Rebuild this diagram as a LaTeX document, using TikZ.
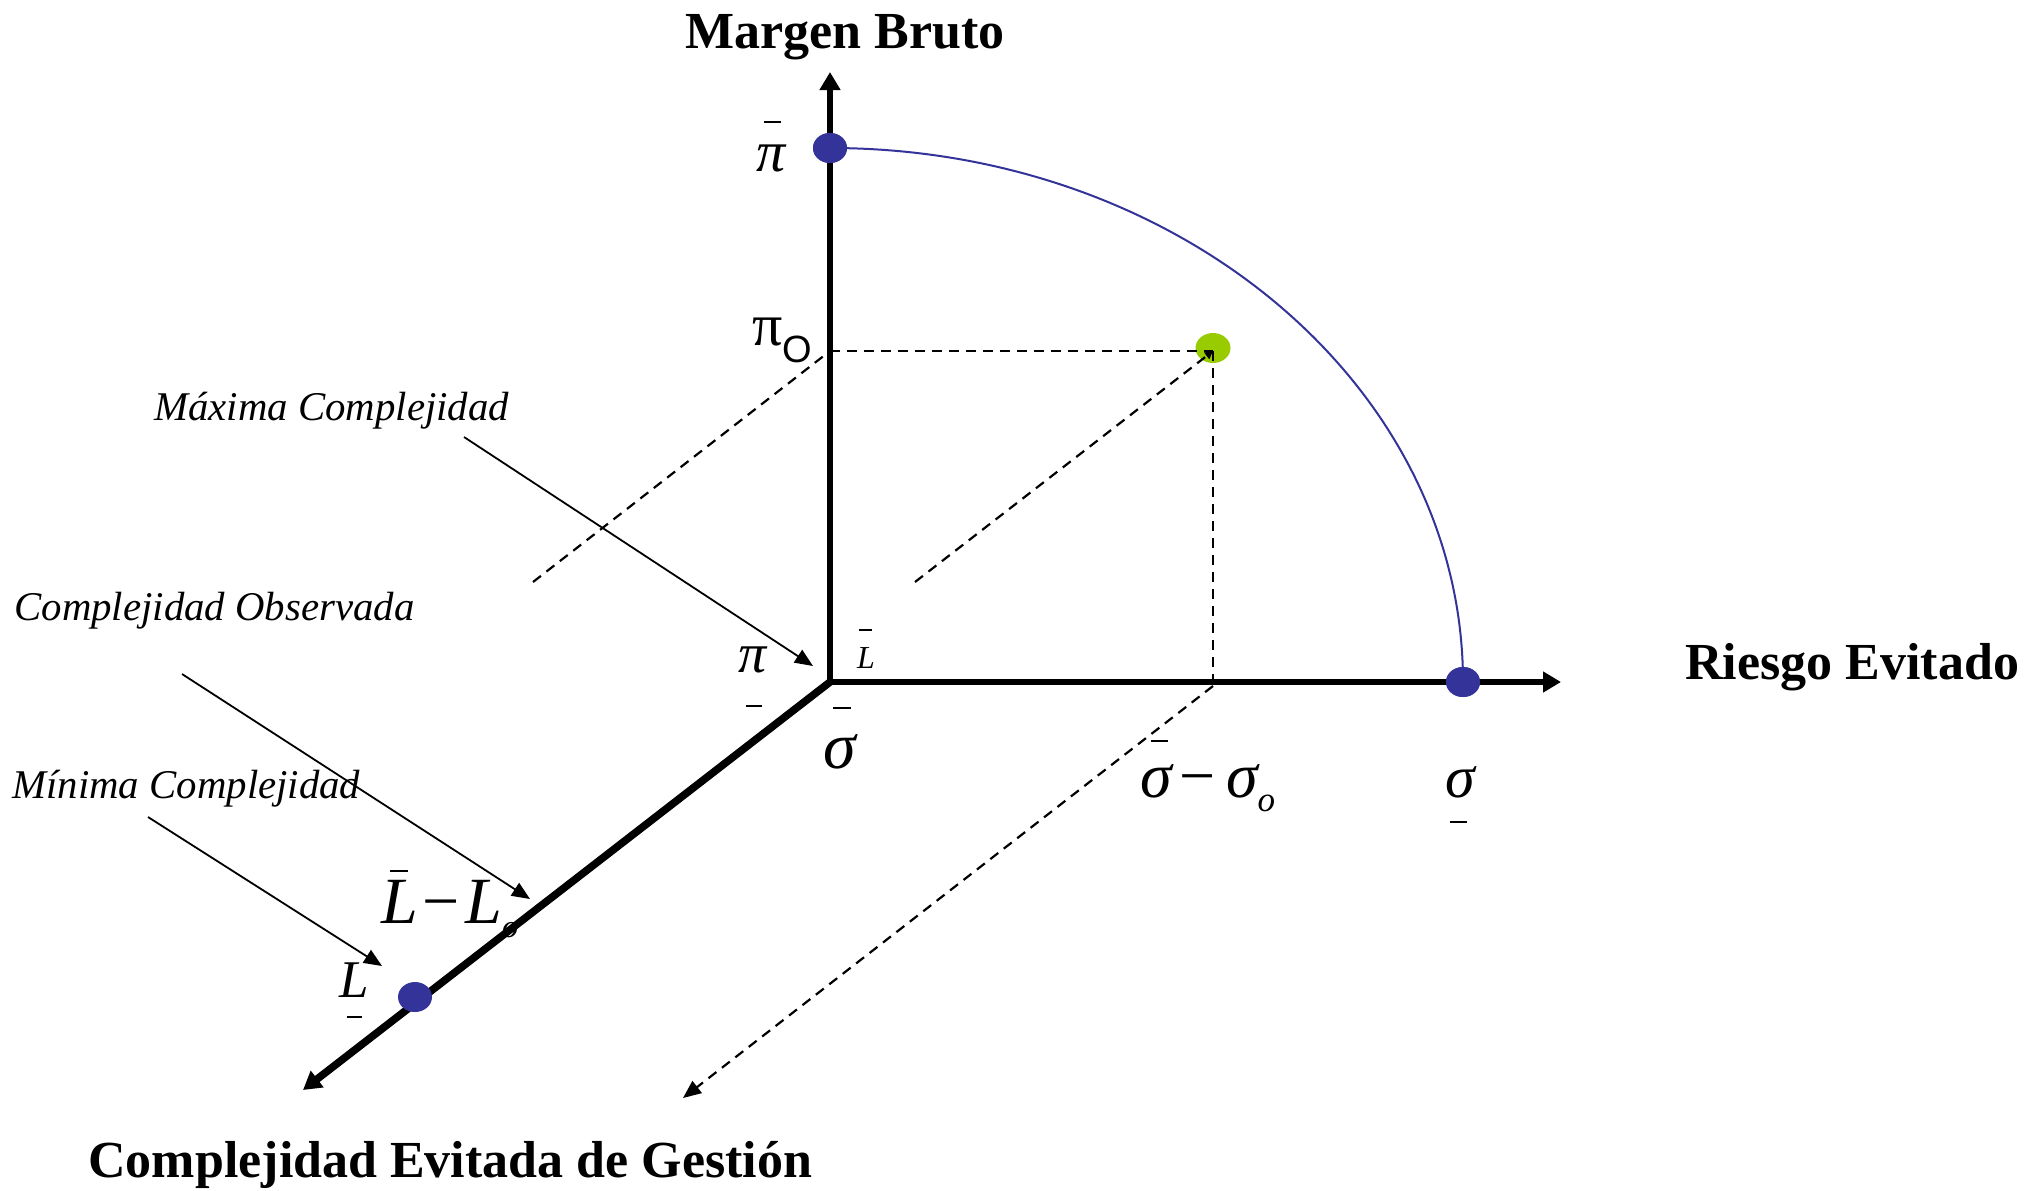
\documentclass[tikz,border=0pt]{standalone}
\usepackage{fontspec}
\setmainfont{Liberation Serif}
\newfontfamily\sansf{Liberation Sans}
\usetikzlibrary{arrows.meta,shapes.geometric,calc}
\definecolor{dotblue}{RGB}{51,51,153}
\definecolor{dotgreen}{RGB}{153,204,0}
\begin{document}
\begin{tikzpicture}[x=0.5pt,y=-0.5pt,
  axis/.style={line width=3.4pt,-{Triangle[length=9pt,width=10pt]}},
  pointer/.style={line width=0.9pt,-{Triangle[length=9pt,width=7.5pt]}},
  guide/.style={line width=1.1pt,dash pattern=on 5pt off 3.5pt},
  dotb/.style={ellipse,minimum width=17pt,minimum height=15pt,inner sep=0,fill=dotblue},
  dotg/.style={ellipse,minimum width=17.5pt,minimum height=15pt,inner sep=0,fill=dotgreen},
  title/.style={font=\fontsize{26}{30}\selectfont\bfseries,inner sep=0,anchor=base west},
  note/.style={font=\fontsize{20.4}{24}\selectfont\itshape,inner sep=0,anchor=base west},
  sym/.style={inner sep=0},
  bar/.style={line width=1pt}]
\useasboundingbox (0,0) rectangle (2040,1190);

% axes
\coordinate (O) at (830,682);
\coordinate (ytip) at (830,72);
\coordinate (xtip) at (1561,682);
\coordinate (ztip) at (303,1090);
\draw[axis] (O) -- (ytip);
\draw[axis] (O) -- (xtip);
\draw[axis,line width=3.8pt] (O) -- (ztip);

% frontier curve and dots
\node[dotb] (pidot) at (830,148) {};
\node[dotb] (sigdot) at (1463,682) {};
\node[dotb] (Ldot) at (415,997) {};
\node[dotg] (gdot) at (1213,348) {};
\draw[dotblue,line width=1pt] (pidot.center) .. controls (1180,148) and (1463,387) .. (sigdot.center);
\node[dotb] at (pidot) {};
\node[dotb] at (sigdot) {};

% guide lines
\coordinate (G) at (1213,351);
\coordinate (piOaxis) at (830,351);
\coordinate (sigOaxis) at (1213,682);
\coordinate (leftstart) at (533,582);
\coordinate (midstart) at (915,582);
\coordinate (sigstart) at (1213,686);
\coordinate (sigend) at (683,1098);
\draw[guide] (piOaxis) -- (G);
\draw[guide] (G) -- (sigOaxis);
\draw[guide] (leftstart) -- (piOaxis);
\draw[guide,-{Triangle[length=4pt,width=4pt]}] (midstart) -- (G);
\draw[guide,-{Triangle[length=9pt,width=7.5pt]}] (sigstart) -- (sigend);

% titles
\node[title] (tMB) at (685,48) {Margen Bruto};
\node[title] (tRE) at (1685,679) {Riesgo Evitado};
\node[title] (tCE) at (88,1177) {Complejidad Evitada de Gestión};

% notes and pointers
\node[note] (nMax) at (154,420) {Máxima Complejidad};
\node[note] (nObs) at (14,620) {Complejidad Observada};
\node[note] (nMin) at (12,798) {Mínima Complejidad};
\coordinate (pMaxS) at (464,437);
\coordinate (pMaxE) at (813,666);
\coordinate (pObsS) at (182,674);
\coordinate (pObsE) at (530,899);
\coordinate (pMinS) at (148,817);
\coordinate (pMinE) at (382,966);
\draw[pointer] (pMaxS) -- (pMaxE);
\draw[pointer] (pObsS) -- (pObsE);
\draw[pointer] (pMinS) -- (pMinE);

% symbols
\node[sym,font=\fontsize{29}{32}\selectfont\itshape] (pitop) at (771,158) {π};
\draw[bar] ($(pitop.center)+(-7,-36)$) -- ++(17,0);

\node[sym,anchor=base west,font=\fontsize{30}{34}\selectfont] (piO) at (752,345) {π\raisebox{-8.5pt}{\sansf\fontsize{19}{22}\selectfont O}};

\node[sym,font=\fontsize{28}{32}\selectfont\itshape] (pilow) at (753,660) {π};
\draw[bar] ($(pilow.center)+(-7,46)$) -- ++(16,0);

\node[sym,font=\fontsize{16}{18}\selectfont\itshape] (Lbar) at (866,658) {L};
\draw[bar] ($(Lbar.center)+(-7,-28)$) -- ++(13,0);

\node[sym,font=\fontsize{33}{36}\selectfont\itshape] (sigbar) at (840,752) {σ};
\draw[bar] ($(sigbar.center)+(-7,-44)$) -- ++(18,0);

\node[sym,anchor=base west,font=\fontsize{32}{36}\selectfont\itshape] (sigo) at (1140,797) {σ\kern4pt{\upshape −}\kern5pt σ\raisebox{-7pt}{\fontsize{17.5}{20}\selectfont o}};
\draw[bar] ($(sigo.base west)+(11,-56)$) -- ++(17,0);

\node[sym,font=\fontsize{30}{34}\selectfont\itshape] (siglow) at (1460,782) {σ};
\draw[bar] ($(siglow.center)+(-10,40)$) -- ++(17,0);

\node[sym,anchor=base west,font=\fontsize{33}{36}\selectfont\itshape] (Lo) at (381,923) {L\kern2pt{\upshape −}\kern3pt L\raisebox{-7pt}{\fontsize{16}{18}\selectfont o}};
\draw[bar] ($(Lo.base west)+(9,-52)$) -- ++(18,0);

\node[sym,font=\fontsize{26.5}{30}\selectfont\itshape] (Llow) at (354,980) {L};
\draw[bar] ($(Llow.center)+(-7,37)$) -- ++(15,0);
\end{tikzpicture}
\end{document}
